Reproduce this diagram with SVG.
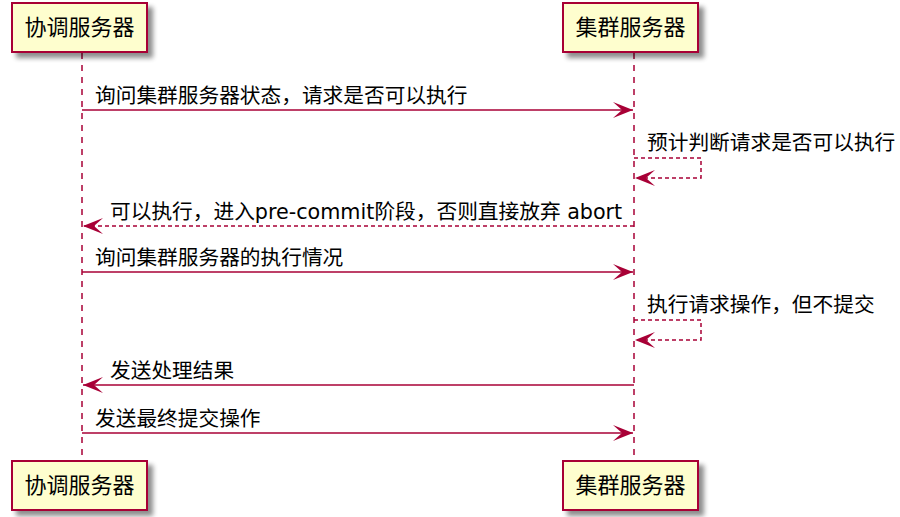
<svg xmlns="http://www.w3.org/2000/svg" width="900" height="517" viewBox="0 0 900 517">
<defs>
<filter id="sh" x="-10%" y="-20%" width="130%" height="160%">
<feGaussianBlur in="SourceAlpha" stdDeviation="2.5"/>
<feOffset dx="5" dy="5" result="b"/>
<feComponentTransfer><feFuncA type="linear" slope="0.45"/></feComponentTransfer>
<feMerge><feMergeNode/><feMergeNode in="SourceGraphic"/></feMerge>
</filter>
<marker id="ah" viewBox="0 0 20 16" refX="20" refY="8" markerWidth="20" markerHeight="16" markerUnits="userSpaceOnUse" orient="auto">
<polygon points="0,0 20,8 0,16 9,8" fill="#A80036"/>
</marker>
</defs>
<style>
.box{fill:#FEFECE;stroke:#A80036;stroke-width:2;filter:url(#sh)}
.pt{font-family:"DejaVu Sans","Noto Sans CJK SC",sans-serif;font-size:22px;fill:#000}
.life{stroke:#A80036;stroke-width:1.5;stroke-dasharray:6,6;fill:none}
.msg{stroke:#A80036;stroke-width:1.5;fill:none}
.dash{stroke-dasharray:4,3}
.mt{font-family:"DejaVu Sans","Noto Sans CJK SC",sans-serif;font-size:20.7px;fill:#000}
</style>
<rect width="900" height="517" fill="#FFFFFF"/>
<g id="lifelines">
<line class="life" x1="82" y1="53" x2="82" y2="460"/>
<line class="life" x1="634" y1="53" x2="634" y2="460"/>
</g>
<g id="p1-top"><rect class="box" x="12" y="3" width="135" height="49"/><text class="pt" x="79.5" y="35" text-anchor="middle">协调服务器</text></g>
<g id="p2-top"><rect class="box" x="563" y="3" width="135" height="49"/><text class="pt" x="630.5" y="35" text-anchor="middle">集群服务器</text></g>
<g id="p1-bottom"><rect class="box" x="12" y="461" width="135" height="49"/><text class="pt" x="79.5" y="493" text-anchor="middle">协调服务器</text></g>
<g id="p2-bottom"><rect class="box" x="563" y="461" width="135" height="49"/><text class="pt" x="630.5" y="493" text-anchor="middle">集群服务器</text></g>
<g id="connectors">
<line class="msg" x1="82" y1="110" x2="633" y2="110" marker-end="url(#ah)"/>
<polyline class="msg dash" points="634,158 701,158 701,178 635,178" marker-end="url(#ah)"/>
<line class="msg dash" x1="634" y1="226" x2="83" y2="226" marker-end="url(#ah)"/>
<line class="msg" x1="82" y1="272" x2="633" y2="272" marker-end="url(#ah)"/>
<polyline class="msg dash" points="634,320 701,320 701,340 635,340" marker-end="url(#ah)"/>
<line class="msg" x1="634" y1="385" x2="83" y2="385" marker-end="url(#ah)"/>
<line class="msg" x1="82" y1="433" x2="633" y2="433" marker-end="url(#ah)"/>
</g>
<g id="labels">
<text class="mt" x="95" y="103">询问集群服务器状态，请求是否可以执行</text>
<text class="mt" x="647" y="150">预计判断请求是否可以执行</text>
<text class="mt" x="110" y="219">可以执行，进入pre-commit阶段，否则直接放弃 abort</text>
<text class="mt" x="95" y="265">询问集群服务器的执行情况</text>
<text class="mt" x="647" y="312">执行请求操作，但不提交</text>
<text class="mt" x="110" y="378">发送处理结果</text>
<text class="mt" x="95" y="426">发送最终提交操作</text>
</g>
</svg>
